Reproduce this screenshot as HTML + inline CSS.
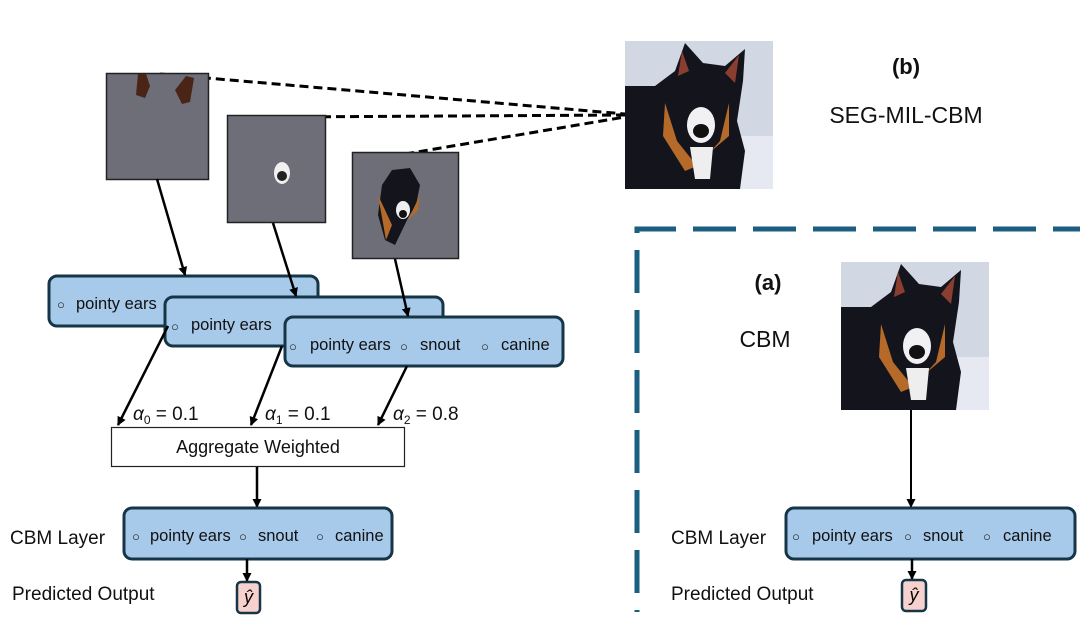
<!DOCTYPE html>
<html><head><meta charset="utf-8"><style>
body{margin:0;background:#fff;width:1080px;height:620px;overflow:hidden}
svg text{font-family:"Liberation Sans",sans-serif}
</style></head><body>
<svg width="1080" height="620" viewBox="0 0 1080 620" xmlns="http://www.w3.org/2000/svg">
<defs>
<marker id="ah" markerWidth="9" markerHeight="9" refX="8" refY="4.5" orient="auto" markerUnits="userSpaceOnUse"><path d="M0,0 L9,4.5 L0,9 z" fill="#000"/></marker>
<g id="dog">
<rect width="148" height="148" fill="#d2d7e4"/>
<rect y="95" width="148" height="53" fill="#e6e9f1"/>
<path d="M0,45 L0,148 L115,148 L120,110 L112,80 L118,40 L120,8 L100,25 L78,22 L60,2 L50,30 L30,45 Z" fill="#14151c"/>
<path d="M57,10 L53,35 L64,30 Z" fill="#8a3e30"/>
<path d="M114,14 L100,32 L110,42 Z" fill="#8a3e30"/>
<path d="M40,62 L52,100 L72,125 L60,130 L38,95 Z" fill="#b56a2a"/>
<path d="M104,62 L95,100 L84,112 L104,95 Z" fill="#b56a2a"/>
<ellipse cx="76" cy="84" rx="14" ry="18" fill="#f1f1f3"/>
<ellipse cx="76" cy="90" rx="8" ry="7" fill="#111"/>
<path d="M65,106 L88,106 L85,138 L70,138 Z" fill="#eeeeef"/>
</g>
</defs>
<g stroke="#000" stroke-width="3" stroke-dasharray="9,5" fill="none">
<line x1="160" y1="74" x2="625" y2="114"/>
<line x1="280" y1="117" x2="625" y2="115"/>
<line x1="405" y1="154" x2="625" y2="117"/>
</g>
<rect x="106.5" y="73.5" width="102" height="106" fill="#6d6e78" stroke="#222" stroke-width="1.5"/>
<path d="M138,74 L136,95 L145,98 L150,86 L146,74 Z" fill="#4a2416"/>
<path d="M175,90 L182,104 L190,102 L194,78 L186,76 Z" fill="#4a2416"/>
<rect x="227.5" y="115.5" width="98" height="107" fill="#6d6e78" stroke="#222" stroke-width="1.5"/>
<ellipse cx="282" cy="173" rx="8" ry="11" fill="#f0f0f0"/><ellipse cx="282" cy="176" rx="5" ry="5" fill="#222"/>
<rect x="352.5" y="152.5" width="106" height="106" fill="#6d6e78" stroke="#222" stroke-width="1.5"/>
<path d="M382,185 L392,170 L410,168 L420,185 L416,205 L408,218 L395,245 L385,240 L378,215 Z" fill="#14151c"/>
<path d="M378,195 L392,225 L386,240 Z" fill="#b56a2a"/><path d="M420,195 L408,220 L418,210 Z" fill="#b56a2a"/>
<ellipse cx="403" cy="210" rx="7" ry="9" fill="#eee"/><ellipse cx="403" cy="214" rx="4" ry="4" fill="#111"/>
<g stroke="#163648" stroke-width="3" fill="#a7c9ea">
<rect x="49" y="276" width="269" height="50" rx="8"/>
<rect x="165" y="297" width="278" height="49" rx="8"/>
<rect x="285" y="317" width="278" height="49" rx="8"/>
</g>
<g stroke="#000" stroke-width="2.5" fill="none" marker-end="url(#ah)">
<line x1="157" y1="179" x2="185" y2="275"/>
<line x1="273" y1="223" x2="296" y2="296"/>
<line x1="395" y1="259" x2="408" y2="316"/>
</g>
<g font-size="16.5" fill="#111">
<text x="57" y="309" font-size="13">○</text><text x="76" y="309">pointy ears</text>
<text x="171" y="331" font-size="13">○</text><text x="191" y="330">pointy ears</text>
<text x="289" y="351" font-size="13">○</text><text x="310" y="350">pointy ears</text>
<text x="400" y="351" font-size="13">○</text><text x="420" y="350">snout</text>
<text x="481" y="351" font-size="13">○</text><text x="501" y="350">canine</text>
</g>
<g stroke="#000" stroke-width="2.5" fill="none" marker-end="url(#ah)">
<line x1="168" y1="326" x2="118" y2="425"/>
<line x1="282" y1="346" x2="251" y2="425"/>
<line x1="407" y1="366" x2="378" y2="425"/>
</g>
<g font-size="19" fill="#111">
<text x="133" y="420" font-family="Liberation Serif,serif"><tspan font-style="italic">α</tspan><tspan font-size="12" dy="4">0</tspan><tspan dy="-4"> = 0.1</tspan></text>
<text x="265" y="420" font-family="Liberation Serif,serif"><tspan font-style="italic">α</tspan><tspan font-size="12" dy="4">1</tspan><tspan dy="-4"> = 0.1</tspan></text>
<text x="393" y="420" font-family="Liberation Serif,serif"><tspan font-style="italic">α</tspan><tspan font-size="12" dy="4">2</tspan><tspan dy="-4"> = 0.8</tspan></text>
</g>
<rect x="111.5" y="427.5" width="293" height="39" fill="#fff" stroke="#222" stroke-width="1.2"/>
<text x="258" y="453" font-size="18" text-anchor="middle" fill="#111">Aggregate Weighted</text>
<line x1="257" y1="467" x2="257" y2="507" stroke="#000" stroke-width="2.5" marker-end="url(#ah)"/>
<rect x="124" y="508" width="268" height="51" rx="8" fill="#a7c9ea" stroke="#163648" stroke-width="3"/>
<g font-size="16.5" fill="#111">
<text x="132" y="541" font-size="13">○</text><text x="150" y="541">pointy ears</text>
<text x="239" y="541" font-size="13">○</text><text x="258" y="541">snout</text>
<text x="316" y="541" font-size="13">○</text><text x="335" y="541">canine</text>
</g>
<text x="10" y="544" font-size="19" fill="#111">CBM Layer</text>
<line x1="247" y1="559" x2="247" y2="581" stroke="#000" stroke-width="2.5" marker-end="url(#ah)"/>
<rect x="237" y="582" width="23" height="31" rx="4" fill="#f6d1cd" stroke="#163648" stroke-width="2.5"/>
<text x="248.5" y="603" font-size="18" font-family="Liberation Serif,serif" font-style="italic" text-anchor="middle">ŷ</text>
<text x="12" y="600" font-size="19" fill="#111">Predicted Output</text>
<use href="#dog" x="625" y="41"/>
<text x="906" y="74" font-size="22" font-weight="bold" text-anchor="middle" fill="#111">(b)</text>
<text x="906" y="123" font-size="23" text-anchor="middle" fill="#111">SEG-MIL-CBM</text>
<path d="M637,612 L637,229 L1080,229" fill="none" stroke="#1b5e80" stroke-width="5" stroke-dasharray="43,17" stroke-dashoffset="-19"/>
<text x="768" y="290" font-size="22" font-weight="bold" text-anchor="middle" fill="#111">(a)</text>
<text x="765" y="347" font-size="23" text-anchor="middle" fill="#111">CBM</text>
<use href="#dog" x="841" y="262"/>
<line x1="911" y1="410" x2="911" y2="507" stroke="#000" stroke-width="2" marker-end="url(#ah)"/>
<rect x="786" y="508" width="289" height="51" rx="8" fill="#a7c9ea" stroke="#163648" stroke-width="3"/>
<g font-size="16.5" fill="#111">
<text x="792" y="541" font-size="13">○</text><text x="812" y="541">pointy ears</text>
<text x="904" y="541" font-size="13">○</text><text x="923" y="541">snout</text>
<text x="983" y="541" font-size="13">○</text><text x="1003" y="541">canine</text>
</g>
<text x="671" y="544" font-size="19" fill="#111">CBM Layer</text>
<line x1="912" y1="559" x2="912" y2="579" stroke="#000" stroke-width="2.5" marker-end="url(#ah)"/>
<rect x="902" y="580" width="24" height="31" rx="4" fill="#f6d1cd" stroke="#163648" stroke-width="2.5"/>
<text x="914" y="601" font-size="18" font-family="Liberation Serif,serif" font-style="italic" text-anchor="middle">ŷ</text>
<text x="671" y="600" font-size="19" fill="#111">Predicted Output</text>
</svg>
</body></html>
